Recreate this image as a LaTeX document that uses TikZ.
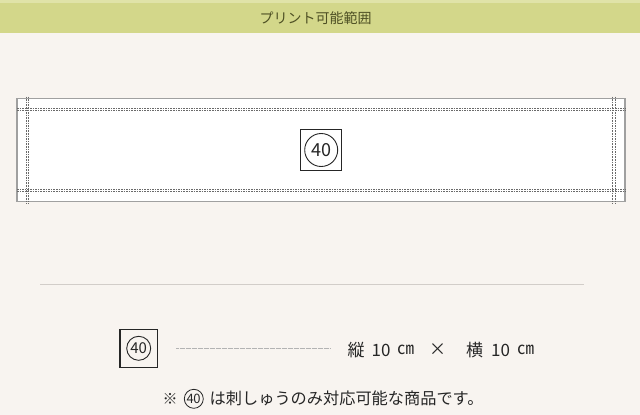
\documentclass[tikz,border=0pt]{standalone}
\usepackage{fontspec}
\setmainfont{Noto Sans CJK JP}
\newfontfamily\jp{Noto Sans CJK JP}
\definecolor{bgc}{HTML}{F8F4F0}
\definecolor{band}{HTML}{D3D78A}
\definecolor{bandtop}{HTML}{E0E3A8}
\definecolor{titlec}{HTML}{4E5024}
\definecolor{rectc}{HTML}{A0A0A0}
\definecolor{dashc}{HTML}{6A6A6A}
\definecolor{sepc}{HTML}{D2CDC9}
\definecolor{txtc}{HTML}{262626}
\tikzset{
  dline/.style={draw=dashc, line width=0.7pt, dash pattern=on 1.6pt off 1pt},
  markbox/.style={draw=txtc, line width=1.1pt, minimum size=#1, inner sep=0pt},
  markcirc/.style={draw=txtc, line width=0.9pt, circle, minimum size=#1, inner sep=0pt},
  lbl/.style={text=txtc, inner sep=0pt, font=\jp\fontsize{17}{17}\selectfont},
}
\begin{document}
\begin{tikzpicture}[x=1pt,y=-1pt]
\useasboundingbox (0,0) rectangle (640,415);
\fill[bgc] (0,0) rectangle (640,415);
% title band
\fill[band] (0,0) rectangle (640,32.5);
\fill[bandtop] (0,0) rectangle (640,2.5);
\node[text=titlec, inner sep=0pt, font=\jp\fontsize{14}{14}\selectfont] (title) at (315.5,18) {プリント可能範囲};
% banner
\node[draw=rectc, fill=white, line width=1.1pt, minimum width=608pt, minimum height=103pt, inner sep=0pt] (banner) at (321,149.8) {};
\draw[dline] (17,108.3) -- (626,108.3);
\draw[dline] (17,110.6) -- (626,110.6);
\draw[dline] (17,189.4) -- (626,189.4);
\draw[dline] (17,191.7) -- (626,191.7);
\draw[dline] (26,96.5) -- (26,203.5);
\draw[dline] (28.4,96.5) -- (28.4,203.5);
\draw[dline] (612.7,96.5) -- (612.7,203.5);
\draw[dline] (615,96.5) -- (615,203.5);
% center mark
\node[markbox=41pt, fill=white] (cbox) at (321.2,150) {};
\node[markcirc=33pt, font=\jp\fontsize{18}{18}\selectfont, text=txtc] (ccirc) at (cbox.center) {40};
% separator
\draw[sepc, line width=1pt] (40,284.3) coordinate (s1) -- (584,284.3) coordinate (s2);
% size row
\node[markbox=37.5pt] (sbox) at (138.7,348.3) {};
\node[markcirc=24pt, font=\jp\fontsize{15}{15}\selectfont, text=txtc] (scirc) at (sbox.center) {40};
\coordinate (d1) at (176,348.3);
\coordinate (d2) at (330,348.3);
\draw[draw=rectc!80, line width=0.6pt, dash pattern=on 0.6pt off 0.6pt] (d1) -- (d2);
\node[lbl, anchor=west] (t1) at (347.5,350) {縦};
\node[lbl, anchor=west] (t2) at (371.5,350) {10};
\node[lbl, anchor=west] (t3) at (397,350) {㎝};
\node[lbl, anchor=west] (t4) at (429,350) {×};
\node[lbl, anchor=west] (t5) at (466,350) {横};
\node[lbl, anchor=west] (t6) at (491,350) {10};
\node[lbl, anchor=west] (t7) at (517,350) {㎝};
% footnote
\node[lbl, anchor=west, font=\jp\fontsize{15}{15}\selectfont] (n1) at (162.5,398.5) {※};
\node[markcirc=19pt, line width=0.8pt, font=\jp\fontsize{13}{13}\selectfont, text=txtc] (n2) at (193.8,398.8) {\hspace{-0.5pt}4\hspace{-0.6pt}0};
\node[lbl, anchor=west, font=\jp\fontsize{16.2}{16.2}\selectfont] (n3) at (209.5,398.5) {は刺しゅうのみ対応可能な商品です。};
\end{tikzpicture}
\end{document}
